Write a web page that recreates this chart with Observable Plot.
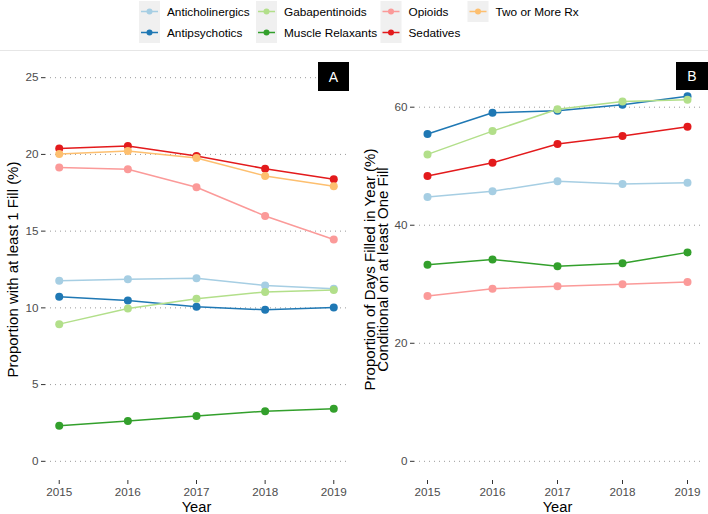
<!DOCTYPE html>
<html>
<head>
<meta charset="utf-8">
<script src="https://cdn.jsdelivr.net/npm/d3@7"></script>
<script src="https://cdn.jsdelivr.net/npm/@observablehq/plot@0.6"></script>
<style>
  html, body { margin: 0; padding: 0; background: #fff; }
  #wrap { position: relative; width: 708px; height: 514px; overflow: hidden; font-family: "Liberation Sans", Arial, sans-serif; }
  #wrap > svg, #wrap > div { position: absolute; }
  .strip { background: #000; color: #fff; font-size: 14px; display: flex; align-items: center; justify-content: center; }
</style>
</head>
<body>
<div id="wrap"></div>
<script>
const years = [2015, 2016, 2017, 2018, 2019];
const drugs = ["Anticholinergics", "Antipsychotics", "Gabapentinoids", "Muscle Relaxants", "Opioids", "Sedatives", "Two or More Rx"];
const colors = ["#A6CEE3", "#1F78B4", "#B2DF8A", "#33A02C", "#FB9A99", "#E31A1C", "#FDBF6F"];

// Panel A: Proportion with at least 1 fill (%)
const anticholinergicsA = [11.76, 11.87, 11.93, 11.46, 11.24];
const antipsychoticsA   = [10.72, 10.48, 10.07, 9.87, 10.03];
const gabapentinoidsA   = [8.94, 9.96, 10.59, 11.04, 11.17];
const muscleRelaxantsA  = [2.32, 2.62, 2.95, 3.27, 3.42];
const opioidsA          = [19.14, 19.03, 17.86, 15.99, 14.45];
const sedativesA        = [20.38, 20.55, 19.90, 19.07, 18.38];
const twoOrMoreA        = [20.03, 20.22, 19.77, 18.60, 17.92];

// Panel B: Proportion of days filled in year (%) conditional on at least one fill
const anticholinergicsB = [44.8, 45.75, 47.45, 47.0, 47.2];
const antipsychoticsB   = [55.45, 59.05, 59.4, 60.4, 61.85];
const gabapentinoidsB   = [52.0, 55.95, 59.65, 60.95, 61.25];
const muscleRelaxantsB  = [33.3, 34.2, 33.05, 33.55, 35.4];
const opioidsB          = [28.0, 29.25, 29.65, 30.0, 30.4];
const sedativesB        = [48.35, 50.6, 53.75, 55.1, 56.7];

const ticksA = [0, 5, 10, 15, 20, 25];
const ticksB = [0, 20, 40, 60];

const seriesA = [anticholinergicsA, antipsychoticsA, gabapentinoidsA, muscleRelaxantsA, opioidsA, sedativesA, twoOrMoreA];
const seriesB = [anticholinergicsB, antipsychoticsB, gabapentinoidsB, muscleRelaxantsB, opioidsB, sedativesB, null];

function toRows(series) {
  const rows = [];
  series.forEach((vals, i) => {
    if (!vals) return;
    vals.forEach((v, j) => rows.push({drug: drugs[i], year: years[j], value: v}));
  });
  return rows;
}

const FONT = '"Liberation Sans", Arial, sans-serif';

function panel({rows, yDomain, yTicks, marginLeft, marginRight, ylabel, ylabelDx}) {
  return Plot.plot({
    width: 354,
    height: 514,
    marginTop: 58,
    marginBottom: 34,
    marginLeft,
    marginRight,
    style: {fontFamily: FONT, background: "transparent", overflow: "visible"},
    x: {domain: [2014.8, 2019.2]},
    y: {domain: yDomain},
    color: {domain: drugs, range: colors},
    marks: [
      Plot.gridY({ticks: yTicks, stroke: "#9a9a9a", strokeOpacity: 1, strokeWidth: 1, strokeDasharray: "1,4"}),
      Plot.axisY({ticks: yTicks, tickSize: 4, tickPadding: 3, fontSize: 11.7, stroke: "#333", fill: "#4d4d4d", label: null}),
      Plot.axisX({ticks: years, tickFormat: d => String(d), tickSize: 4, tickPadding: 3, fontSize: 11.7, stroke: "#333", fill: "#4d4d4d", label: null}),
      Plot.line(rows, {x: "year", y: "value", z: "drug", stroke: "drug", strokeWidth: 1.5}),
      Plot.dot(rows, {x: "year", y: "value", fill: "drug", r: 4}),
      Plot.text([ylabel], {frameAnchor: "left", rotate: -90, dx: ylabelDx, fontSize: 15, fill: "#000", lineHeight: 0.88, lineAnchor: "middle", textAnchor: "middle"}),
      Plot.text(["Year"], {frameAnchor: "bottom", dy: 27, fontSize: 14.7, fill: "#000", lineAnchor: "middle", textAnchor: "middle"})
    ]
  });
}

const wrap = document.getElementById("wrap");

// separator line
const sep = document.createElement("div");
Object.assign(sep.style, {left: "0px", top: "50px", width: "708px", height: "1px", background: "#e6e6e6"});
wrap.appendChild(sep);

const pA = panel({rows: toRows(seriesA), yDomain: [-1.25, 26.25], yTicks: ticksA, marginLeft: 45, marginRight: 7,
  ylabel: "Proportion with at least 1 Fill (%)", ylabelDx: -31.5});
pA.style.left = "0px"; pA.style.top = "0px";
wrap.appendChild(pA);

const pB = panel({rows: toRows(seriesB), yDomain: [-3.25, 68.25], yTicks: ticksB, marginLeft: 60, marginRight: 8,
  ylabel: "Proportion of Days Filled in Year (%)\nConditional on at least One Fill", ylabelDx: -37});
pB.style.left = "354px"; pB.style.top = "0px";
wrap.appendChild(pB);

// strip labels
function strip(txt, left, top, w, h) {
  const d = document.createElement("div");
  d.className = "strip";
  d.textContent = txt;
  Object.assign(d.style, {left: left + "px", top: top + "px", width: w + "px", height: h + "px"});
  wrap.appendChild(d);
}
strip("A", 318, 62, 31, 29);
strip("B", 676, 62, 32, 28);

// legend
const legendCols = [149.5, 266.5, 391, 478];
const legendRows = [11.5, 32.5];
const leg = d3.create("svg").attr("width", 708).attr("height", 48)
  .style("left", "0px").style("top", "0px").style("font-family", FONT);
drugs.forEach((name, i) => {
  const col = Math.floor(i / 2), row = i % 2;
  const cx = legendCols[col], cy = legendRows[row];
  const g = leg.append("g");
  g.append("rect").attr("x", cx - 10.5).attr("y", cy - 10.5).attr("width", 21).attr("height", 21).attr("fill", "#f0f0f0");
  g.append("line").attr("x1", cx - 8.5).attr("x2", cx + 8.5).attr("y1", cy).attr("y2", cy)
    .attr("stroke", colors[i]).attr("stroke-width", 1.5);
  g.append("circle").attr("cx", cx).attr("cy", cy).attr("r", 3).attr("fill", colors[i]);
  g.append("text").attr("x", cx + 17.5).attr("y", cy).attr("dy", "0.35em")
    .attr("font-size", 11.8).attr("fill", "#000").text(name);
});
wrap.appendChild(leg.node());
</script>
</body>
</html>
